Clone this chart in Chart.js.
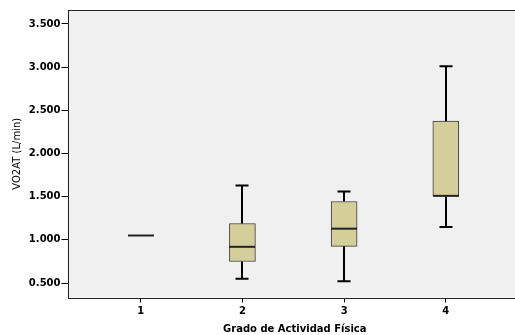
<!DOCTYPE html>
<html lang="es">
<head>
  <meta charset="UTF-8">
  <title>VO2AT por Grado de Actividad Física</title>
  <script src="https://cdn.jsdelivr.net/npm/chart.js"></script>
  <style>
    html, body { margin: 0; padding: 0; background: #fff; overflow: hidden; }
    #wrap { width: 515px; height: 335px; overflow: hidden; }
  </style>
</head>
<body>
<div id="wrap">
  <canvas id="myChart" width="522" height="335"></canvas>
</div>

<script>
  // boxplot values
  const categories  = ['1', '2', '3', '4'];
  const catPos      = [1, 2, 3, 4];
  const whiskerLow  = [1.051, 0.55, 0.52, 1.15];
  const q1          = [1.051, 0.75, 0.925, 1.51];
  const median      = [1.051, 0.92, 1.13, 1.51];
  const q3          = [1.051, 1.19, 1.445, 2.375];
  const whiskerHigh = [1.051, 1.63, 1.56, 3.01];
  const yTicks      = [0.5, 1.0, 1.5, 2.0, 2.5, 3.0, 3.5];

  const tickFont = { family: 'DejaVu Sans', size: 10, weight: 'bold' };

  // plot background + frame
  const frame = {
    id: 'frame',
    beforeDraw(chart) {
      const { ctx, chartArea: a } = chart;
      ctx.save();
      ctx.fillStyle = '#f0f0f0';
      ctx.fillRect(a.left, a.top, a.right - a.left, a.bottom - a.top);
      ctx.restore();
    },
    afterDraw(chart) {
      const { ctx, chartArea: a } = chart;
      ctx.save();
      ctx.strokeStyle = '#222';
      ctx.lineWidth = 1;
      ctx.strokeRect(Math.round(a.left) + 0.5, Math.round(a.top) + 0.5,
        Math.round(a.right - a.left), Math.round(a.bottom - a.top));
      ctx.restore();
    }
  };

  // whiskers, caps and medians
  const whiskers = {
    id: 'whiskers',
    afterDatasetsDraw(chart) {
      const { ctx, scales: { x, y } } = chart;
      const half = 13, capHalf = 6.5;
      ctx.save();
      ctx.lineCap = 'butt';
      catPos.forEach((c, i) => {
        const px = Math.round(x.getPixelForValue(c));
        ctx.strokeStyle = '#000';
        ctx.lineWidth = 2;
        if (whiskerHigh[i] > q3[i]) {
          const yTop = y.getPixelForValue(whiskerHigh[i]);
          ctx.beginPath();
          ctx.moveTo(px, y.getPixelForValue(q3[i]));
          ctx.lineTo(px, yTop);
          ctx.moveTo(px - capHalf, yTop);
          ctx.lineTo(px + capHalf, yTop);
          ctx.stroke();
        }
        if (whiskerLow[i] < q1[i]) {
          const yBot = y.getPixelForValue(whiskerLow[i]);
          ctx.beginPath();
          ctx.moveTo(px, y.getPixelForValue(q1[i]));
          ctx.lineTo(px, yBot);
          ctx.moveTo(px - capHalf, yBot);
          ctx.lineTo(px + capHalf, yBot);
          ctx.stroke();
        }
        const ym = y.getPixelForValue(median[i]);
        ctx.strokeStyle = '#222';
        ctx.beginPath();
        ctx.moveTo(px - half, ym);
        ctx.lineTo(px + half, ym);
        ctx.stroke();
      });
      ctx.restore();
    }
  };

  const ctx = document.getElementById('myChart').getContext('2d');
  const myChart = new Chart(ctx, {
    type: 'bar',
    data: {
      datasets: [{
        data: catPos.map((c, i) => ({ x: c, y: [q1[i], q3[i]] })),
        backgroundColor: '#d4cf9a',
        borderColor: '#3a3a3a',
        borderWidth: 1,
        borderSkipped: false,
        barThickness: 26
      }]
    },
    options: {
      responsive: false,
      animation: false,
      layout: { padding: { top: 10, left: 0, right: 0, bottom: 0 } },
      plugins: { legend: { display: false }, tooltip: { enabled: false } },
      scales: {
        x: {
          type: 'linear',
          offset: false,
          min: 0.28,
          max: 4.749,
          afterBuildTicks: s => { s.ticks = catPos.map(v => ({ value: v })); },
          afterFit: s => { s.height = 37.5; },
          ticks: {
            color: '#000',
            font: tickFont,
            padding: 3,
            callback: (v) => categories[catPos.indexOf(v)]
          },
          grid: { display: true, offset: false, drawOnChartArea: false, drawTicks: true, tickLength: 5, color: '#000' },
          border: { display: false },
          title: {
            display: true,
            text: 'Grado de Actividad Física',
            color: '#000',
            font: { family: 'DejaVu Sans', size: 10, weight: 'bold' },
            padding: { top: 5, bottom: 0 }
          }
        },
        y: {
          min: 0.333,
          max: 3.662,
          afterBuildTicks: s => { s.ticks = yTicks.map(v => ({ value: v })); },
          afterFit: s => { s.width = 67.5; },
          ticks: {
            color: '#000',
            font: tickFont,
            padding: 1,
            callback: v => v.toFixed(3)
          },
          grid: { display: true, offset: false, drawOnChartArea: false, drawTicks: true, tickLength: 6, color: '#000' },
          border: { display: false },
          title: {
            display: true,
            text: 'VO2AT (L/min)',
            color: '#000',
            font: { family: 'DejaVu Sans', size: 10 },
            padding: { top: 11, bottom: 0 }
          }
        }
      }
    },
    plugins: [frame, whiskers]
  });
</script>
</body>
</html>
